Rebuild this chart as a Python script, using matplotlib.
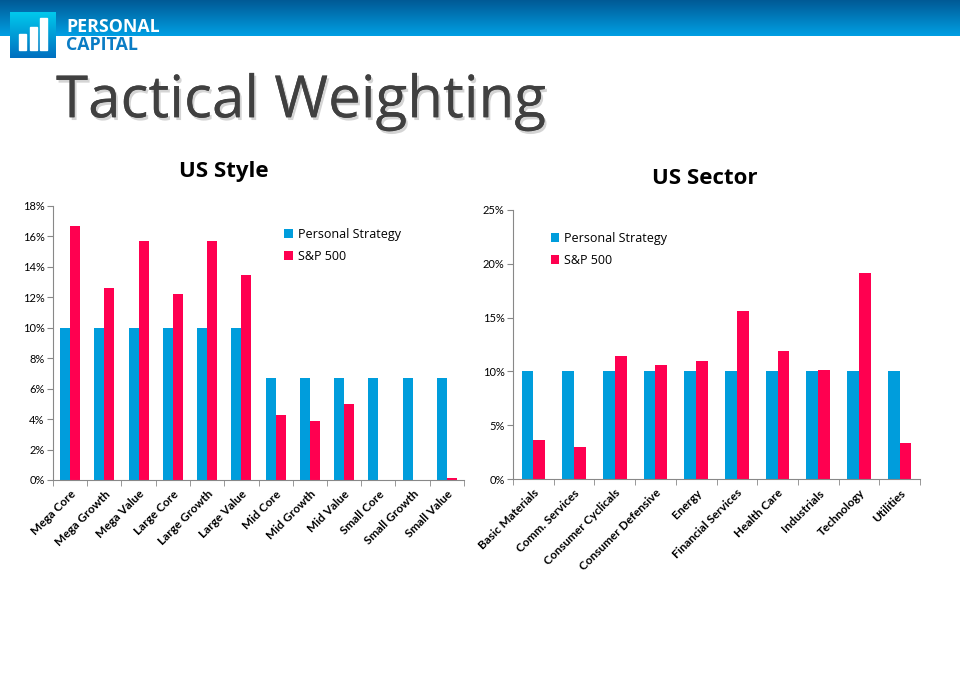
import matplotlib.pyplot as plt
import matplotlib.patches as mpatches
import matplotlib.patheffects as pe
from matplotlib.colors import LinearSegmentedColormap
import numpy as np

# US Style data
style_cats = ['Mega Core', 'Mega Growth', 'Mega Value', 'Large Core', 'Large Growth', 'Large Value',
              'Mid Core', 'Mid Growth', 'Mid Value', 'Small Core', 'Small Growth', 'Small Value']
style_personal = [10, 10, 10, 10, 10, 10, 6.67, 6.67, 6.67, 6.67, 6.67, 6.67]
style_sp500 = [16.7, 12.6, 15.7, 12.2, 15.7, 13.5, 4.3, 3.9, 5.0, 0, 0, 0.1]

# US Sector data
sector_cats = ['Basic Materials', 'Comm. Services', 'Consumer Cyclicals', 'Consumer Defensive', 'Energy',
               'Financial Services', 'Health Care', 'Industrials', 'Technology', 'Utilities']
sector_personal = [10, 10, 10, 10, 10, 10, 10, 10, 10, 10]
sector_sp500 = [3.6, 3.0, 11.4, 10.6, 11.0, 15.6, 11.9, 10.1, 19.1, 3.3]

BLUE = '#009DDC'
RED = '#FF0050'

fig = plt.figure(figsize=(9.6, 6.74), dpi=100)
fig.patch.set_facecolor('white')

# header band
hdr = fig.add_axes([0, 1 - 36 / 674, 1, 36 / 674])
grad = np.linspace(0, 1, 50).reshape(-1, 1)
cmap = LinearSegmentedColormap.from_list('hdr', ['#005A96', '#009FE3'])
hdr.imshow(grad, aspect='auto', cmap=cmap, extent=[0, 1, 0, 1])
hdr.axis('off')

# logo
logo = fig.add_axes([10 / 960, 1 - 58 / 674, 46 / 960, 46 / 674])
lg = np.linspace(0, 1, 50).reshape(-1, 1)
lcmap = LinearSegmentedColormap.from_list('logo', ['#00C8EC', '#0070C0'])
logo.imshow(lg, aspect='auto', cmap=lcmap, extent=[0, 1, 0, 1])
for x0, h in [(0.2, 0.35), (0.43, 0.5), (0.66, 0.7)]:
    logo.add_patch(mpatches.Rectangle((x0, 0.18), 0.15, h, color='white'))
logo.set_xlim(0, 1)
logo.set_ylim(0, 1)
logo.axis('off')

fig.text(66 / 960, 1 - 27 / 674, 'PERSONAL', color='white', fontsize=12.8, fontweight='bold',
         family='Open Sans', va='center')
fig.text(66 / 960, 1 - 45 / 674, 'CAPITAL', color='#0A7CC4', fontsize=12.8, fontweight='bold',
         family='Open Sans', va='center')

fig.text(56 / 960, 1 - 102 / 674, 'Tactical Weighting', color='#404040', fontsize=42,
         family='Open Sans', va='center',
         path_effects=[pe.withSimplePatchShadow(offset=(1.5, -2), shadow_rgbFace='#aaaaaa', alpha=0.5),
                       pe.Normal()])


def draw(ax, cats, personal, sp, ymax, step, legend_pos):
    x = np.arange(len(cats))
    w = 0.29
    ax.bar(x - w / 2, personal, w, color=BLUE, label='Personal Strategy')
    ax.bar(x + w / 2, sp, w, color=RED, label='S&P 500')
    ax.set_xlim(-0.5, len(cats) - 0.5)
    ax.set_ylim(0, ymax)
    ticks = np.arange(0, ymax + 0.1, step)
    ax.set_yticks(ticks)
    ax.set_yticklabels([f'{int(v)}%' for v in ticks], fontsize=8, family='Lato')
    ax.set_xticks(x)
    ax.set_xticklabels(cats, rotation=45, ha='right', rotation_mode='anchor', fontsize=8.5,
                       fontweight='bold', family='Lato')
    ax.set_xticks(np.arange(-0.5, len(cats)), minor=True)
    ax.tick_params(axis='x', which='major', length=0, pad=6)
    ax.tick_params(axis='x', which='minor', length=4, color='#888888')
    ax.tick_params(axis='y', length=4, color='#888888', pad=2)
    for s in ['top', 'right']:
        ax.spines[s].set_visible(False)
    for s in ['left', 'bottom']:
        ax.spines[s].set_color('#888888')
    ax.legend(loc='upper left', bbox_to_anchor=legend_pos, frameon=False,
              handlelength=0.7, handleheight=0.7, handletextpad=0.4, labelspacing=0.7,
              prop={'family': 'Open Sans', 'size': 9})


ax1 = fig.add_axes([53 / 960, 1 - 480 / 674, 411 / 960, 274 / 674])
draw(ax1, style_cats, style_personal, style_sp500, 18, 2, (0.535, 0.96))
ax1.set_title('US Style', fontsize=16, fontweight='bold', family='Open Sans', pad=21, x=0.415)

ax2 = fig.add_axes([513 / 960, 1 - 479 / 674, 407 / 960, 269 / 674])
draw(ax2, sector_cats, sector_personal, sector_sp500, 25, 5, (0.065, 0.96))
ax2.set_title('US Sector', fontsize=16, fontweight='bold', family='Open Sans', pad=19, x=0.47)

fig.savefig('out.png', dpi=100)
